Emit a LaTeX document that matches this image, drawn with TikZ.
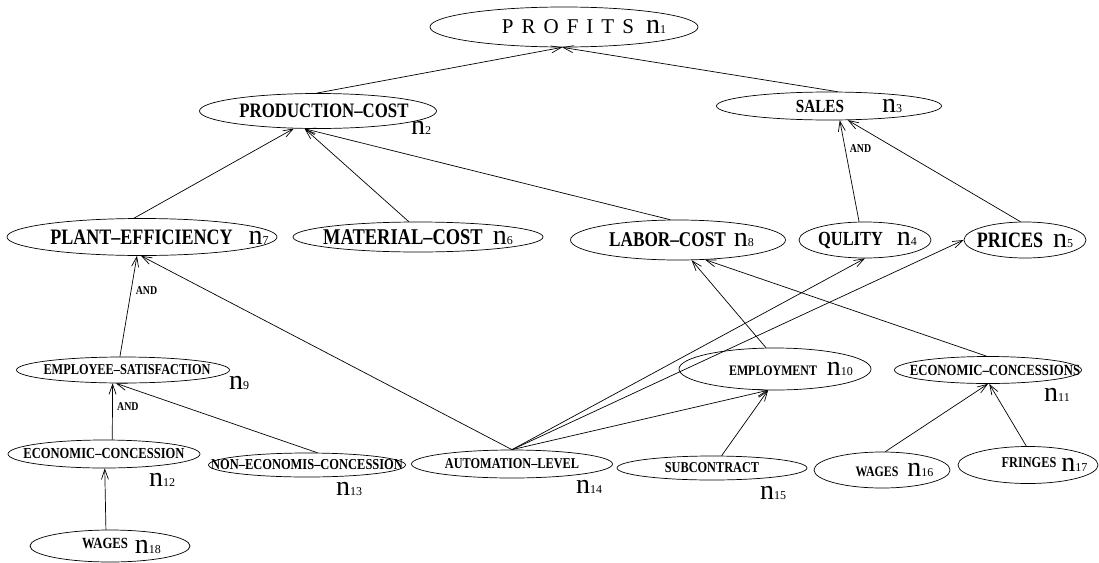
\documentclass[tikz,border=0pt]{standalone}
\usepackage{fontspec}
\setmainfont{Liberation Serif}
\newfontfamily\condfont{Liberation Serif}[FakeStretch=0.82]
\usetikzlibrary{positioning, shapes.geometric, arrows.meta}

\newcommand{\nlab}[1]{{\normalfont\fontsize{28}{28}\selectfont n\fontsize{12}{12}\selectfont #1}}
\newcommand{\gtext}[3]{\makebox[0pt]{\kern#1\fontsize{#2}{#2}\selectfont\condfont\bfseries #3}}
\newcommand{\andlab}{{\fontsize{12}{12}\selectfont\condfont\bfseries AND}}

\begin{document}
\begin{tikzpicture}[x=1pt, y=-1pt, line width=0.7pt, >={Straight Barb[length=10pt,width=7pt]}]
\tikzset{Goal/.style={shape=ellipse, draw, inner sep=0pt}}
\tikzset{Num/.style={inner sep=0pt}}
\useasboundingbox (0,0) rectangle (1099,562);

% nodes
\node[Goal, minimum width=268pt, minimum height=40pt] (profits) at (564,27)
  {\makebox[0pt]{\kern40pt\fontsize{21}{21}\selectfont P\kern8pt R\kern8pt O\kern8pt F\kern8pt I\kern8pt T\kern8pt S\kern12pt\nlab{1}}};

\node[Goal, minimum width=237pt, minimum height=35pt] (prodcost) at (318,111) {\gtext{12pt}{20.5}{PRODUCTION–COST}};
\node[Num] (n2) at (421,128) {\nlab{2}};
\node[Goal, minimum width=225pt, minimum height=28pt] (sales) at (829,106) {\gtext{40pt}{18.5}{SALES\hspace{38pt}\nlab{3}}};

\node[Goal, minimum width=270pt, minimum height=37pt] (planteff) at (142,237) {\gtext{35pt}{22}{PLANT–EFFICIENCY\hspace{16pt}\nlab{7}}};
\node[Goal, minimum width=250pt, minimum height=30pt] (matcost) at (418,237) {\gtext{0pt}{22.5}{MATERIAL–COST\hspace{10pt}\nlab{6}}};
\node[Goal, minimum width=215pt, minimum height=40pt] (laborcost) at (678,240) {\gtext{7pt}{21}{LABOR–COST\hspace{8pt}\nlab{8}}};
\node[Goal, minimum width=132pt, minimum height=36pt] (quality) at (865,240) {\gtext{5pt}{20}{QULITY\hspace{14pt}\nlab{4}}};
\node[Goal, minimum width=122pt, minimum height=36pt] (prices) at (1025,240) {\gtext{0pt}{22}{PRICES\hspace{10pt}\nlab{5}}};

\node[Goal, minimum width=213pt, minimum height=26pt] (empsat) at (123,370) {\gtext{8pt}{15}{EMPLOYEE–SATISFACTION}};
\node[Num] (n9) at (239,383) {\nlab{9}};
\node[Goal, minimum width=192pt, minimum height=42pt] (employment) at (775,369) {\gtext{32pt}{14.5}{EMPLOYMENT\hspace{10pt}\nlab{10}}};
\node[Goal, minimum width=187pt, minimum height=27pt] (econcs) at (988,370) {\gtext{14pt}{15.5}{ECONOMIC–CONCESSIONS}};
\node[Num] (n11) at (1057,395) {\nlab{11}};

\node[Goal, minimum width=192pt, minimum height=28pt] (econc) at (104,454) {\gtext{0pt}{15.3}{ECONOMIC–CONCESSION}};
\node[Num] (n12) at (162,480) {\nlab{12}};
\node[Goal, minimum width=197pt, minimum height=24pt] (nonecon) at (307,465) {\gtext{0pt}{15.2}{NON–ECONOMIS–CONCESSION}};
\node[Num] (n13) at (349,489) {\nlab{13}};
\node[Goal, minimum width=201pt, minimum height=28pt] (autolevel) at (512,464) {\gtext{0pt}{15}{AUTOMATION–LEVEL}};
\node[Num] (n14) at (589,487) {\nlab{14}};
\node[Goal, minimum width=190pt, minimum height=24pt] (subcontract) at (712,468) {\gtext{0pt}{15}{SUBCONTRACT}};
\node[Num] (n15) at (773,493) {\nlab{15}};
\node[Goal, minimum width=136pt, minimum height=36pt] (wagesa) at (882,470) {\gtext{25pt}{14.5}{WAGES\hspace{9pt}\nlab{16}}};
\node[Goal, minimum width=140pt, minimum height=37pt] (fringes) at (1028,465) {\gtext{33pt}{15}{\raisebox{4pt}{FRINGES}\hspace{5pt}\nlab{17}}};
\node[Goal, minimum width=160pt, minimum height=32pt] (wagesb) at (110,546) {\gtext{23pt}{15.5}{\raisebox{5pt}{WAGES}\hspace{7pt}\nlab{18}}};

% arrows
\draw[->] (prodcost.95) -- (profits.-95);
\draw[->] (sales.59) -- (profits.-95);
\draw[->] (planteff.113) -- (prodcost.-144);
\draw[->] (matcost.121) -- (prodcost.-127);
\draw[->] (laborcost.111) -- (prodcost.-127);
\draw[->] (quality.108) -- node[pos=0.72, right=1pt] (and1) {\andlab} (sales.-53);
\draw[->] (prices.104) -- (sales.-37);
\draw[->] (empsat.103) -- node[pos=0.66, right=1pt] (and2) {\andlab} (planteff.-105);
\draw[->] (autolevel.north) -- (planteff.-93);
\draw[->] (autolevel.north) -- (quality.south);
\draw[->] (autolevel.north) -- (prices.west);
\draw[->] (autolevel.north) -- (employment.-108);
\draw[->] (employment.113) -- (laborcost.-56);
\draw[->] (econcs.96) -- (laborcost.-36);
\draw[->] (econc.60) -- node[pos=0.58, right=1pt] (and3) {\andlab} (empsat.-128);
\draw[->] (nonecon.50) -- (empsat.-118);
\draw[->] (subcontract.52) -- (employment.-108);
\draw[->] (wagesa.80) -- (econcs.south);
\draw[->] (fringes.95) -- (econcs.-85);
\draw[->] (wagesb.104) -- (econc.-87);
\end{tikzpicture}
\end{document}
